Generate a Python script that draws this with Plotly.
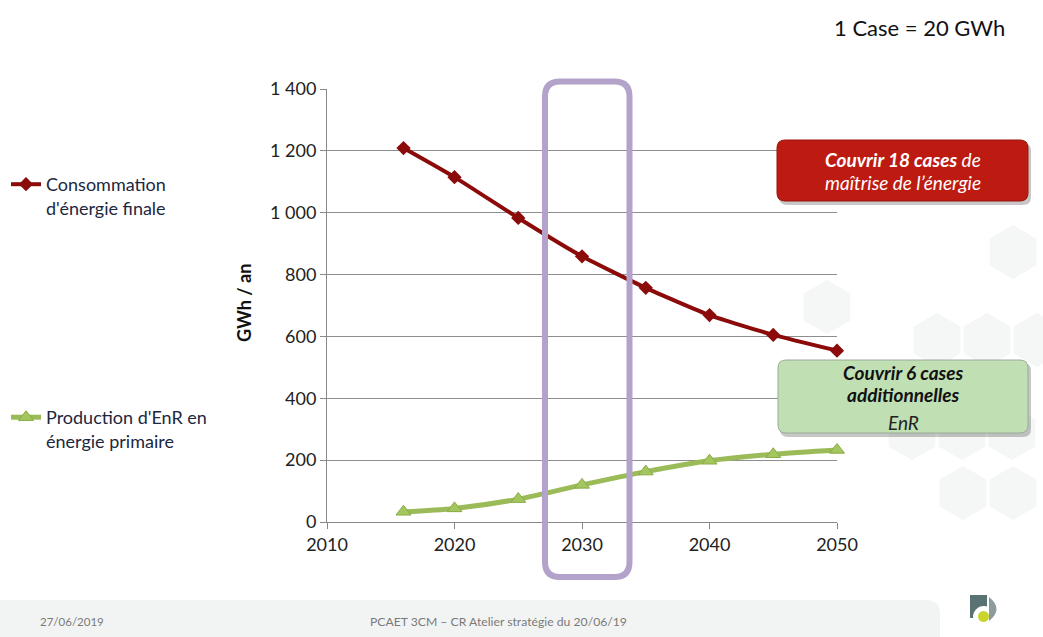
import math
import plotly.graph_objects as go

# ---------------- data ----------------
years = [2016, 2020, 2025, 2030, 2035, 2040, 2045, 2050]
consommation = [1209, 1115, 983, 859, 757, 669, 605, 554]
production_enr = [33, 44, 74, 120, 163, 198, 219, 233]
series_names = ["Consommation<br>d'énergie finale", "Production d'EnR en<br>énergie primaire"]
y_ticks = [0, 200, 400, 600, 800, 1000, 1200, 1400]
x_ticks = [2010, 2020, 2030, 2040, 2050]

W, H = 1043, 637
L, R, T, B = 327, 837, 89, 522   # plot area in pixels
FONT = "Lato"


def px(x):
    return (x - L) / (R - L)


def py(y):
    return (B - y) / (B - T)


def rrect(x0, y0, x1, y1, r):
    """rounded rectangle path, pixel coords -> paper coords"""
    rx, ry = r / (R - L), r / (B - T)
    X0, X1 = px(x0), px(x1)
    Y1, Y0 = py(y0), py(y1)  # Y1 top, Y0 bottom
    return (f"M {X0+rx},{Y1} L {X1-rx},{Y1} Q {X1},{Y1} {X1},{Y1-ry} "
            f"L {X1},{Y0+ry} Q {X1},{Y0} {X1-rx},{Y0} L {X0+rx},{Y0} "
            f"Q {X0},{Y0} {X0},{Y0+ry} L {X0},{Y1-ry} Q {X0},{Y1} {X0+rx},{Y1} Z")


def hexagon(cx, cy, r):
    pts = []
    for k in range(6):
        a = math.radians(90 + 60 * k)
        pts.append((px(cx + r * math.cos(a)), py(cy - r * math.sin(a))))
    return "M " + " L ".join(f"{a},{b}" for a, b in pts) + " Z"


fig = go.Figure()
fig.add_trace(go.Scatter(
    x=years, y=consommation, name=series_names[0], mode="lines+markers",
    line=dict(color="#8b0a0a", width=4, shape="spline", smoothing=0.5),
    marker=dict(symbol="diamond", size=11, color="#8b0a0a"),
    cliponaxis=False, legend="legend"))
fig.add_trace(go.Scatter(
    x=years, y=production_enr, name=series_names[1], mode="lines+markers",
    line=dict(color="#9bbb59", width=5, shape="spline", smoothing=0.8),
    marker=dict(symbol="triangle-up", size=13, color="#a4c65e",
                line=dict(color="#8aab48", width=1)),
    cliponaxis=False, legend="legend2"))

shapes = []
# faint background hexagons
for (cx, cy) in [(1013, 252), (827, 307), (937, 340), (987, 340), (1037, 340),
                 (912, 433), (962, 433), (1012, 433), (963, 493), (1013, 493)]:
    shapes.append(dict(type="path", xref="paper", yref="paper", path=hexagon(cx, cy, 27),
                       fillcolor="#f4f7f5", line=dict(width=0), layer="below"))
# footer bar
shapes.append(dict(type="path", xref="paper", yref="paper", path=rrect(-20, 600, 940, 650, 14),
                   fillcolor="#f2f4f4", line=dict(width=0), layer="below"))
# logo
shapes.append(dict(type="rect", xref="paper", yref="paper", x0=px(970), x1=px(987), y0=py(618), y1=py(595),
                   fillcolor="#5a7272", line=dict(width=0)))
shapes.append(dict(type="circle", xref="paper", yref="paper", x0=px(973), x1=px(995), y0=py(628), y1=py(606),
                   fillcolor="white", line=dict(width=0)))
shapes.append(dict(type="path", xref="paper", yref="paper",
                   path=f"M {px(989)},{py(597)} Q {px(1004)},{py(609)} {px(989)},{py(621)} Z",
                   fillcolor="#8c9c9c", line=dict(width=0)))
shapes.append(dict(type="circle", xref="paper", yref="paper", x0=px(978), x1=px(989), y0=py(622), y1=py(611),
                   fillcolor="#c9d42c", line=dict(width=0)))
# purple highlight frame
shapes.append(dict(type="path", xref="paper", yref="paper", path=rrect(545, 81.5, 629.5, 577, 15),
                   fillcolor="rgba(0,0,0,0)", line=dict(color="#b3a2ca", width=6)))
# red box (shadow + box)
shapes.append(dict(type="path", xref="paper", yref="paper", path=rrect(779, 143, 1031, 205, 8),
                   fillcolor="rgba(0,0,0,0.22)", line=dict(width=0)))
shapes.append(dict(type="path", xref="paper", yref="paper", path=rrect(777, 140, 1028, 201, 8),
                   fillcolor="#bd1b12", line=dict(color="#9a120c", width=1)))
# green box (shadow + box)
shapes.append(dict(type="path", xref="paper", yref="paper", path=rrect(780, 363, 1031, 437, 8),
                   fillcolor="rgba(0,0,0,0.22)", line=dict(width=0)))
shapes.append(dict(type="path", xref="paper", yref="paper", path=rrect(778, 360, 1028, 433, 8),
                   fillcolor="#c0e0b4", line=dict(color="#9aaa98", width=1)))


def ann(text, x, y, size, color="#111", xanchor="center", **kw):
    return dict(text=text, x=px(x), y=py(y), xref="paper", yref="paper", showarrow=False,
                xanchor=xanchor, yanchor="middle", font=dict(family=FONT, size=size, color=color), **kw)


annotations = [
    ann("1 Case = 20 GWh", 832, 27, 22, "#111", xanchor="left"),
    ann("<b>GWh / an</b>", 244, 303, 18, "#111", textangle=-90),
    ann("<b><i>Couvrir 18 cases</i></b><i> de</i>", 903, 159, 19, "white"),
    ann("<i>maîtrise de l’énergie</i>", 903, 182, 19, "white"),
    ann("<b><i>Couvrir 6 cases</i></b>", 903, 372, 19, "#111"),
    ann("<b><i>additionnelles</i></b>", 903, 394, 19, "#111"),
    ann("<i>EnR</i>", 903, 422, 19, "#222"),
    ann("27/06/2019", 38, 621, 11.5, "#7a7a7a", xanchor="left"),
    ann("PCAET 3CM – CR Atelier stratégie du 20/06/19", 498, 621, 12.2, "#7a7a7a"),
]

legend_common = dict(bgcolor="rgba(0,0,0,0)", font=dict(family=FONT, size=18, color="#1c2740"),
                     xanchor="left", yanchor="top", valign="top", itemwidth=30,
                     traceorder="normal")

fig.update_layout(
    width=W, height=H,
    margin=dict(l=L, r=W - R, t=T, b=H - B, autoexpand=False),
    paper_bgcolor="white", plot_bgcolor="rgba(0,0,0,0)",
    separators=", ",
    font=dict(family=FONT, size=18, color="#222"),
    showlegend=True,
    legend=dict(x=px(6), y=py(166), **legend_common),
    legend2=dict(x=px(6), y=py(399), **legend_common),
    xaxis=dict(range=[2010, 2050], tickvals=x_ticks, ticks="outside", ticklen=6, tickcolor="#888",
               showline=True, linecolor="#888", linewidth=1, showgrid=False, zeroline=False,
               tickfont=dict(family=FONT, size=18, color="#222")),
    yaxis=dict(range=[0, 1400], tickvals=y_ticks, ticks="outside", ticklen=6, tickcolor="#888",
               separatethousands=True, showline=True, linecolor="#888", linewidth=1,
               showgrid=True, gridcolor="#8e8e8e", gridwidth=1, zeroline=False,
               tickfont=dict(family=FONT, size=18, color="#222")),
    shapes=shapes, annotations=annotations,
)

fig.write_html("out.html", config={"displayModeBar": False},
               post_script="document.body.style.margin='0';document.body.style.overflow='hidden';")
